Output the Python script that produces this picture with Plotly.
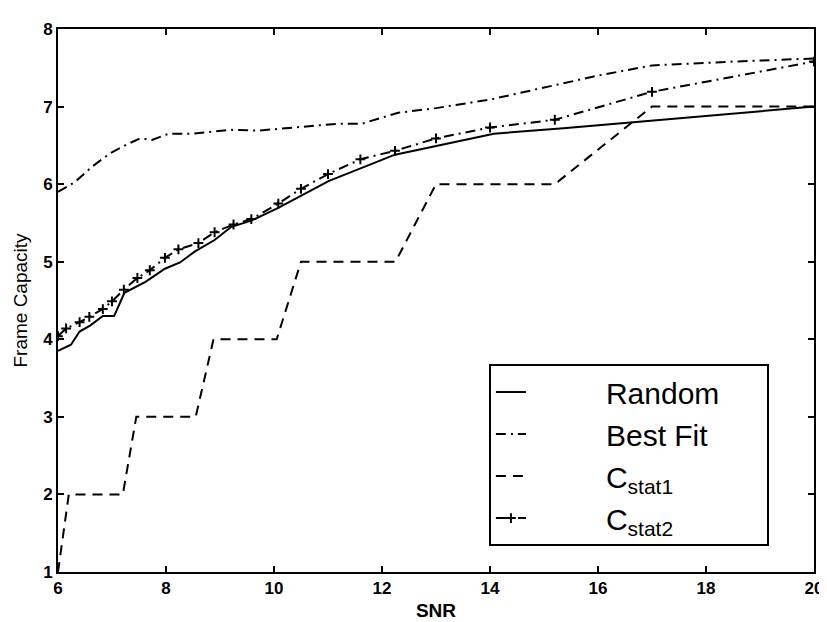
import plotly.graph_objects as go

# ---- data ----
random_x = [6, 6.24, 6.4, 6.6, 6.83, 7.04, 7.23, 7.62, 7.98, 8.26, 8.53, 8.9, 9.21, 9.58,
            10.07, 10.62, 11.01, 12.24, 14.07, 15.36, 17, 20]
random_y = [3.85, 3.93, 4.1, 4.18, 4.3, 4.3, 4.6, 4.74, 4.91, 4.99, 5.13, 5.28, 5.45, 5.53,
            5.69, 5.9, 6.04, 6.38, 6.65, 6.72, 6.82, 7.0]

bestfit_x = [6, 6.3, 6.64, 6.97, 7.3, 7.52, 7.74, 8.05, 8.5, 9.2, 9.7, 10.5, 11.2, 11.63,
             12.3, 13, 14, 15.36, 16, 17, 18.5, 20]
bestfit_y = [5.9, 6.02, 6.23, 6.4, 6.52, 6.59, 6.57, 6.65, 6.65, 6.70, 6.69, 6.74, 6.78, 6.78,
             6.92, 6.98, 7.09, 7.3, 7.4, 7.53, 7.58, 7.62]

cstat1_x = [6, 6.2, 7.2, 7.45, 8.55, 8.88, 10.05, 10.5, 12.25, 13.0, 15.2, 17.0, 20]
cstat1_y = [1, 2, 2, 3, 3, 4, 4, 5, 5, 6, 6, 7, 7]

cstat2_x = [6, 6.15, 6.4, 6.58, 6.83, 7.0, 7.22, 7.47, 7.7, 7.98, 8.23, 8.6, 8.9, 9.25, 9.58,
            10.08, 10.5, 11.0, 11.6, 12.24, 13.0, 14.0, 15.2, 17.0, 20]
cstat2_y = [4.04, 4.14, 4.22, 4.29, 4.39, 4.49, 4.64, 4.79, 4.89, 5.05, 5.16, 5.24, 5.38, 5.48,
            5.55, 5.75, 5.94, 6.13, 6.32, 6.43, 6.59, 6.73, 6.83, 7.19, 7.58]

x_ticks = [6, 8, 10, 12, 14, 16, 18, 20]
y_ticks = [1, 2, 3, 4, 5, 6, 7, 8]

names = ["Random", "Best Fit", "C<sub>stat1</sub>", "C<sub>stat2</sub>"]

NB = "\u00a0"
def lab(s):
    return NB * 9 + s + NB * 5

fig = go.Figure()
fig.add_trace(go.Scatter(x=random_x, y=random_y, mode="lines", name=lab(names[0]),
                         line=dict(color="black", width=2)))
fig.add_trace(go.Scatter(x=bestfit_x, y=bestfit_y, mode="lines", name=lab(names[1]),
                         line=dict(color="black", width=2, dash="10px,5px,2px,5px")))
fig.add_trace(go.Scatter(x=cstat1_x, y=cstat1_y, mode="lines", name=lab(names[2]),
                         line=dict(color="black", width=2, dash="10px,7px")))
fig.add_trace(go.Scatter(x=cstat2_x, y=cstat2_y, mode="lines+markers", name=lab(names[3]),
                         line=dict(color="black", width=2, dash="10px,5px,2px,5px"),
                         marker=dict(symbol="cross-thin", size=7, color="black",
                                     line=dict(color="black", width=2))))

font = "Liberation Sans, Arial, Helvetica, sans-serif"
axis_common = dict(showline=True, linecolor="black", linewidth=2, mirror="ticks",
                   ticks="inside", ticklen=6, tickwidth=1.5, tickcolor="black",
                   showgrid=False, zeroline=False,
                   tickfont=dict(family=font, size=17, color="black", weight="bold"))

fig.update_layout(
    width=827, height=622,
    margin=dict(l=50, r=14, t=15, b=45),
    paper_bgcolor="white", plot_bgcolor="white",
    font=dict(family=font, color="black"),
    showlegend=True,
    legend=dict(x=0.570, y=0.383, xanchor="left", yanchor="top",
                bgcolor="white", bordercolor="black", borderwidth=2,
                font=dict(family=font, size=30, color="black"),
                tracegroupgap=0),
    xaxis=dict(range=[6, 20], tickvals=x_ticks,
               title=dict(text="SNR", font=dict(family=font, size=19, weight="bold"), standoff=6),
               **axis_common),
    yaxis=dict(range=[1, 8], tickvals=y_ticks,
               title=dict(text="Frame Capacity", font=dict(family=font, size=19), standoff=10),
               **axis_common),
)

fig.write_html("out.html")
